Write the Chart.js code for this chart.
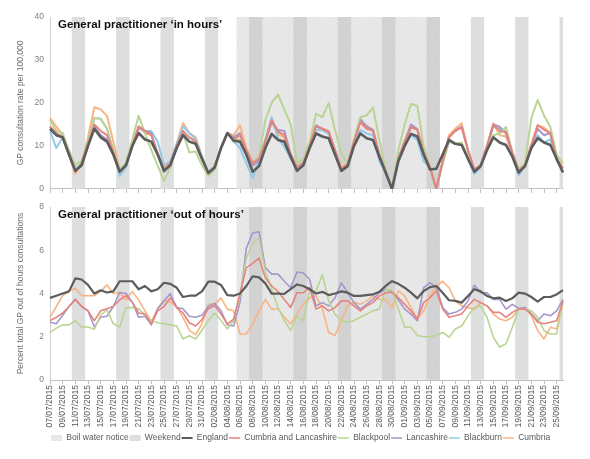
<!DOCTYPE html>
<html>
<head>
<meta charset="utf-8">
<script src="https://cdn.jsdelivr.net/npm/chart.js@4.4.1/dist/chart.umd.min.js"></script>
<style>
  html, body { margin: 0; padding: 0; background: #fff; }
  #wrap { position: relative; width: 590px; height: 459px; overflow: hidden; }
  canvas { position: absolute; left: 0; }
  #inHours { top: 0; }
  #outOfHours { top: 196px; }
  .panel-title { position: absolute; left: 58px; font: bold 11.5px "Liberation Sans", Arial, sans-serif; color: #111; line-height: 14px; white-space: nowrap; }
</style>
</head>
<body>
<div id="wrap">
  <canvas id="inHours" width="590" height="200"></canvas>
  <canvas id="outOfHours" width="590" height="263"></canvas>
  <div class="panel-title" style="top:17px">General practitioner ‘in hours’</div>
  <div class="panel-title" style="top:207px">General practitioner ‘out of hours’</div>
</div>
<script>
// days shown on the x axis (a label is printed every second day)
const dates = [
  '07/07/2015','08/07/2015','09/07/2015','10/07/2015','11/07/2015','12/07/2015','13/07/2015','14/07/2015','15/07/2015','16/07/2015',
  '17/07/2015','18/07/2015','19/07/2015','20/07/2015','21/07/2015','22/07/2015','23/07/2015','24/07/2015','25/07/2015','26/07/2015',
  '27/07/2015','28/07/2015','29/07/2015','30/07/2015','31/07/2015','01/08/2015','02/08/2015','03/08/2015','04/08/2015','05/08/2015',
  '06/08/2015','07/08/2015','08/08/2015','09/08/2015','10/08/2015','11/08/2015','12/08/2015','13/08/2015','14/08/2015','15/08/2015',
  '16/08/2015','17/08/2015','18/08/2015','19/08/2015','20/08/2015','21/08/2015','22/08/2015','23/08/2015','24/08/2015','25/08/2015',
  '26/08/2015','27/08/2015','28/08/2015','29/08/2015','30/08/2015','31/08/2015','01/09/2015','02/09/2015','03/09/2015','04/09/2015',
  '05/09/2015','06/09/2015','07/09/2015','08/09/2015','09/09/2015','10/09/2015','11/09/2015','12/09/2015','13/09/2015','14/09/2015',
  '15/09/2015','16/09/2015','17/09/2015','18/09/2015','19/09/2015','20/09/2015','21/09/2015','22/09/2015','23/09/2015','24/09/2015',
  '25/09/2015','26/09/2015'
];
const weekendDates = [
  '11/07/2015','12/07/2015','18/07/2015','19/07/2015','25/07/2015','26/07/2015','01/08/2015','02/08/2015',
  '08/08/2015','09/08/2015','15/08/2015','16/08/2015','22/08/2015','23/08/2015','29/08/2015','30/08/2015',
  '05/09/2015','06/09/2015','12/09/2015','13/09/2015','19/09/2015','20/09/2015','26/09/2015'
];
const boilWaterFrom = '06/08/2015';
const boilWaterTo = '06/09/2015';

// GP in hours, consultation rate per 100,000
const englandIn = [
  14, 12.5, 12, 8, 4.2, 5.5, 10, 14, 12, 11,
  8, 4, 5.5, 10, 13, 11.5, 11, 8, 4.2, 5.5,
  9.5, 12.5, 11, 10.5, 7, 3.7, 5, 9.5, 13, 11.2,
  11, 8, 4, 5.3, 9.5, 12.8, 11.4, 11, 7.5, 4.2,
  5.5, 9.5, 12.9, 12.2, 11.8, 8, 4.2, 5.3, 10, 12.9,
  11.8, 11.4, 7.5, 3.8, 0, 6.5, 10, 12.8, 12.2, 8,
  4.5, 4.7, 8, 11.4, 10.5, 10.2, 7, 4, 5.3, 9,
  12, 10.8, 10.2, 7.5, 3.8, 5.3, 9.5, 11.8, 10.8, 10.2,
  7, 3.8
];
const cumbriaLancsIn = [
  14.5, 13, 12, 8, 4, 6, 10.5, 15, 13.5, 12.5,
  8.5, 4, 5.5, 10, 14.5, 13.5, 12.5, 8, 4.5, 6,
  10, 13.5, 12, 11, 7, 3.7, 5, 9.5, 13, 11.5,
  12.5, 9, 6, 7, 11, 16, 13.3, 12.5, 8, 5,
  6, 10, 14.5, 14, 13.3, 9, 4.5, 5.7, 11, 15.5,
  14, 13.5, 8, 4, 0, 7, 11, 14.4, 13.8, 8.5,
  5, 0, 6.5, 12, 13.5, 14.3, 9, 4.5, 5.5, 10,
  15, 13.5, 13.2, 8.5, 4.2, 5.5, 10, 14.8, 13.8, 13,
  7, 4.9
];
const blackpoolIn = [
  16, 13.5, 13, 9, 5.5, 6.5, 11, 16.5, 16.3, 14,
  9, 4.5, 6, 11.5, 17, 13, 9, 5.5, 1.8, 5,
  10, 13, 8.5, 8.7, 5.5, 3, 4.5, 9.5, 13, 11.5,
  11.5, 9, 6, 7.5, 16, 20, 22, 18.5, 15, 6,
  7, 11, 17.5, 16.7, 20, 13.7, 8.3, 5.8, 11.5, 16.7,
  17.1, 19, 11.4, 4.5, 0, 9, 15, 19.8, 19.3, 10,
  5, 0, 6, 11, 10.5, 10.8, 7.5, 4.5, 5.5, 9.5,
  12.5, 12.9, 14.4, 8.5, 4.5, 6, 16.5, 20.7, 17.1, 14.4,
  8, 6
];
const lancashireIn = [
  14.5, 12.5, 12, 8, 4.2, 5.5, 10, 14.5, 12.5, 11.5,
  8, 4, 5.5, 10, 14.5, 13.5, 13, 8, 4, 5.5,
  9.5, 13, 11, 10.5, 7, 3.7, 5, 9.5, 13, 12,
  13, 8.5, 5.5, 6.5, 11, 15.5, 13.7, 13.5, 8, 5,
  6, 10, 14.8, 14, 13.3, 9, 4.5, 5.7, 11, 16.3,
  14.4, 13.8, 8, 4, 0, 7, 11, 15, 13.9, 8.5,
  5, 0, 6.5, 12, 13.5, 14.5, 9, 4.5, 5.5, 10,
  15, 14.5, 12.9, 8.5, 4, 5.5, 10, 14, 12.5, 13,
  6.8, 3.9
];
const blackburnIn = [
  13.5, 9.5, 12, 8.5, 4.5, 6, 11, 16.5, 16.3, 14,
  9, 3, 5, 10, 14, 13.5, 13.5, 11, 5.5, 6.5,
  10.5, 14.5, 13, 11.5, 7.5, 4, 5, 9.5, 13, 11,
  9.5, 6, 2.5, 6.5, 11.5, 16.7, 11.8, 9.8, 7, 4.5,
  5.5, 10, 13.7, 13.7, 12.8, 8.5, 4.5, 5.5, 10.5, 13.7,
  12.9, 12.5, 6.5, 3.5, 0, 6, 10, 12.5, 11.4, 6.4,
  5, 0, 6, 11, 10.5, 10.5, 7, 3.5, 5, 9.5,
  14.5, 14, 13.3, 8, 3.2, 5.5, 10, 12.5, 10.8, 11.5,
  6.5, 4.5
];
const cumbriaIn = [
  16.5, 14.5, 12.5, 8, 3.5, 6, 12, 19, 18.5, 17,
  11, 4.5, 6, 10.5, 14.5, 13, 12.5, 8.5, 5, 6,
  10.5, 15.3, 13, 12, 7.5, 3.7, 5.5, 9.5, 13, 12.5,
  14.8, 9.5, 6.3, 7, 11, 15.7, 12.8, 12, 8, 5,
  6, 10.5, 14.8, 14, 13.5, 9, 5, 6, 11, 15.8,
  14.8, 13.5, 8, 4, 0, 7, 11, 14.2, 13.8, 8.5,
  5, 0, 6.5, 12.5, 14, 15.3, 9, 4.5, 5.5, 10,
  15.2, 12.5, 12.2, 8, 4.5, 6, 10.5, 14.8, 14.3, 13,
  7, 4.9
];

// GP out of hours, percent of total consultations
const englandOut = [
  3.8, 3.9, 4.0, 4.1, 4.7, 4.65, 4.4, 4.0, 4.15, 4.05,
  4.1, 4.57, 4.57, 4.57, 4.2, 4.35, 4.1, 4.2, 4.5, 4.45,
  4.27, 3.84, 3.9, 3.9, 4.1, 4.55, 4.55, 4.4, 3.93, 3.9,
  4.0, 4.35, 4.8, 4.75, 4.47, 4.0, 4.0, 3.98, 4.2, 4.42,
  4.35, 4.2, 4.0, 4.08, 3.93, 4.0, 4.1, 4.04, 3.89, 3.89,
  3.93, 3.96, 4.08, 4.35, 4.57, 4.45, 4.27, 4.04, 3.78, 4.12,
  4.3, 4.35, 4.04, 3.69, 3.66, 3.58, 3.89, 4.2, 4.1, 3.89,
  3.78, 3.81, 3.66, 3.78, 4.04, 4.0, 3.84, 3.63, 3.84, 3.84,
  3.96, 4.16
];
const cumbriaLancsOut = [
  2.75, 2.9, 3.1, 3.4, 3.73, 3.4, 3.2, 2.75, 3.2, 3.3,
  3.4, 3.7, 3.9, 3.6, 3.1, 3.05, 2.6, 3.2, 3.4, 3.8,
  3.35, 3.1, 2.65, 2.5, 2.8, 3.3, 3.45, 3.05, 2.6, 2.82,
  4.0, 5.2, 5.4, 5.64, 4.73, 4.35, 4.1, 3.73, 3.35, 4.04,
  4.04, 4.27, 3.28, 3.43, 3.2, 3.35, 3.66, 3.66, 3.43, 3.2,
  3.43, 3.58, 3.89, 4.04, 4.06, 3.81, 3.5, 3.2, 2.82, 3.58,
  3.81, 4.12, 3.28, 2.9, 2.97, 3.05, 3.43, 3.73, 3.58, 3.43,
  3.13, 3.13, 2.9, 3.13, 3.28, 3.28, 3.05, 2.67, 2.6, 2.67,
  2.74, 3.66
];
const blackpoolOut = [
  2.2, 2.4, 2.55, 2.55, 2.75, 2.45, 2.45, 2.35, 3.0, 3.25,
  2.6, 2.45, 3.35, 3.35, 3.3, 3.0, 2.75, 2.65, 2.6, 2.55,
  2.5, 1.9, 2.05, 1.9, 2.3, 2.75, 3.1, 2.75, 2.36, 2.75,
  3.9, 5.64, 6.33, 6.55, 5.03, 4.2, 3.35, 2.75, 2.29, 2.97,
  2.75, 4.2, 4.1, 4.88, 3.66, 3.05, 2.75, 2.67, 2.75, 2.9,
  3.05, 3.2, 3.28, 4.2, 4.15, 3.28, 2.44, 2.44, 2.06, 2.0,
  2.0, 2.06, 2.2, 1.98, 2.36, 2.5, 2.97, 3.35, 3.43, 2.9,
  1.98, 1.52, 1.68, 2.44, 3.28, 3.28, 3.2, 2.9, 2.29, 2.13,
  2.13, 3.66
];
const lancashireOut = [
  2.67, 2.6, 3.0, 3.4, 3.73, 3.4, 3.2, 2.45, 2.9, 2.95,
  3.4, 4.05, 4.0, 3.6, 2.9, 2.95, 2.55, 3.3, 3.65, 4.0,
  3.35, 3.3, 2.95, 2.9, 3.0, 3.4, 3.55, 3.2, 2.55, 2.5,
  3.6, 6.1, 6.8, 6.86, 5.2, 4.9, 4.9, 4.57, 4.27, 5.0,
  4.95, 4.65, 3.43, 3.58, 3.43, 3.8, 4.5, 4.04, 3.58, 3.28,
  3.5, 3.73, 4.04, 4.2, 4.1, 3.7, 3.28, 3.05, 2.74, 4.27,
  4.5, 4.3, 3.35, 3.05, 3.13, 3.28, 3.66, 4.39, 4.04, 4.04,
  3.73, 3.73, 3.28, 3.5, 3.32, 3.35, 3.05, 2.74, 3.05, 2.97,
  3.2, 3.73
];
const blackburnOut = []; // no out of hours series for Blackburn
const cumbriaOut = [
  2.9, 3.4, 3.9, 4.1, 4.25, 3.9, 3.9, 3.9, 4.1, 4.4,
  4.0, 4.05, 3.7, 4.1, 3.7, 3.2, 2.7, 3.3, 3.7, 3.6,
  3.4, 2.9, 2.3, 2.1, 2.6, 3.5, 3.5, 3.8, 3.28, 3.2,
  2.13, 2.13, 2.6, 3.2, 3.73, 3.28, 3.3, 2.9, 2.6, 3.05,
  3.5, 3.8, 3.9, 3.3, 2.2, 2.06, 2.75, 3.45, 3.6, 3.5,
  3.66, 3.89, 3.73, 3.73, 3.35, 4.12, 3.89, 3.35, 2.82, 3.2,
  3.89, 4.35, 4.57, 4.27, 3.66, 3.43, 3.35, 3.28, 3.58, 3.43,
  3.05, 2.82, 2.74, 2.9, 3.28, 3.35, 2.97, 2.29, 1.9, 2.44,
  2.36, 3.58
];

const FONT = '"Liberation Sans", Arial, sans-serif';
const lineColors = {
  'England': '#5c5c5c',
  'Cumbria and Lancashire': '#e4847c',
  'Blackpool': '#bad494',
  'Lancashire': '#a696cc',
  'Blackburn': '#92cbe8',
  'Cumbria': '#f8b482'
};

const noticeStart = dates.indexOf(boilWaterFrom);
const noticeEnd = dates.indexOf(boilWaterTo);
const inNotice = i => i >= noticeStart && i <= noticeEnd;

// fine light diagonal texture for the boil water notice period
function hatch(ctx) {
  const tile = document.createElement('canvas');
  tile.width = tile.height = 3;
  const g = tile.getContext('2d');
  g.fillStyle = '#ececec';
  g.fillRect(0, 0, 3, 3);
  g.fillStyle = '#dddddd';
  g.fillRect(2, 0, 1, 1);
  g.fillRect(1, 1, 1, 1);
  g.fillRect(0, 2, 1, 1);
  return ctx.createPattern(tile, 'repeat');
}

function build(canvas, cfg) {
  const ctx = canvas.getContext('2d');
  const band = {
    type: 'bar', barPercentage: 1, categoryPercentage: 1, grouped: false,
    borderWidth: 0, pointStyle: 'rect'
  };
  const datasets = [
    Object.assign({}, band, {
      label: 'Boil water notice', order: 3,
      data: dates.map((d, i) => inNotice(i) ? cfg.max : null),
      backgroundColor: hatch(ctx)
    }),
    Object.assign({}, band, {
      label: 'Weekend', order: 2,
      data: dates.map(d => weekendDates.includes(d) ? cfg.max : null),
      backgroundColor: c => inNotice(c.dataIndex) ? '#d2d2d2' : '#dddede'
    })
  ];
  cfg.series.forEach(([name, values]) => {
    datasets.push({
      type: 'line', label: name, data: values, order: 1,
      borderColor: lineColors[name],
      borderWidth: name === 'England' ? cfg.lineW + 0.6 : cfg.lineW,
      pointRadius: 0, pointHoverRadius: 0, tension: 0, fill: false,
      borderJoinStyle: 'round', pointStyle: 'line'
    });
  });

  return new Chart(canvas, {
    type: 'line',
    data: { labels: dates, datasets },
    options: {
      responsive: false, animation: false, events: [],
      layout: { padding: cfg.padding },
      plugins: {
        tooltip: { enabled: false },
        legend: cfg.legend ? {
          display: true, position: 'bottom', fullSize: false, align: 'start',
          labels: {
            usePointStyle: true, pointStyleWidth: 11, boxHeight: 6, padding: 1,
            color: '#595959', font: { family: FONT, size: 8.5 },
            sort: (a, b) => a.datasetIndex - b.datasetIndex
          }
        } : { display: false }
      },
      scales: {
        x: {
          offset: false,
          grid: { offset: false, drawOnChartArea: false, drawTicks: true, tickLength: 4, color: '#bfbfbf' },
          border: { color: '#bfbfbf' },
          afterBuildTicks: s => { s.ticks = s.ticks.filter(t => t.value % 2 === 0); },
          afterFit: s => { s.height = cfg.xHeight; },
          ticks: {
            display: cfg.xLabels, autoSkip: false, minRotation: 90, maxRotation: 90, padding: 1,
            color: '#595959', font: { family: FONT, size: 8.5 }
          }
        },
        y: {
          min: 0, max: cfg.max,
          afterFit: s => { s.width = 34; },
          grid: { drawOnChartArea: false, drawTicks: false },
          border: { color: '#cfcfcf' },
          ticks: { stepSize: cfg.step, padding: 6, color: '#808080', font: { family: FONT, size: 8.5 } },
          title: { display: true, text: cfg.yTitle, padding: 0, color: '#6e6e6e', font: { family: FONT, size: 8.5 } }
        }
      }
    }
  });
}

build(document.getElementById('inHours'), {
  max: 40, step: 10, yTitle: 'GP consultation rate per 100,000',
  padding: { top: 17, left: 16, right: 27, bottom: 0 },
  xHeight: 8.5, xLabels: false, legend: false, lineW: 2,
  series: [
    ['England', englandIn], ['Cumbria and Lancashire', cumbriaLancsIn], ['Blackpool', blackpoolIn],
    ['Lancashire', lancashireIn], ['Blackburn', blackburnIn], ['Cumbria', cumbriaIn]
  ]
});

build(document.getElementById('outOfHours'), {
  max: 8, step: 2, yTitle: 'Percent total GP out of hours consultations',
  padding: { top: 9, left: 16, right: 27, bottom: 6.75 },
  xHeight: 52.75, xLabels: true, legend: true, lineW: 1.6,
  series: [
    ['England', englandOut], ['Cumbria and Lancashire', cumbriaLancsOut], ['Blackpool', blackpoolOut],
    ['Lancashire', lancashireOut], ['Blackburn', blackburnOut], ['Cumbria', cumbriaOut]
  ]
});
</script>
</body>
</html>
